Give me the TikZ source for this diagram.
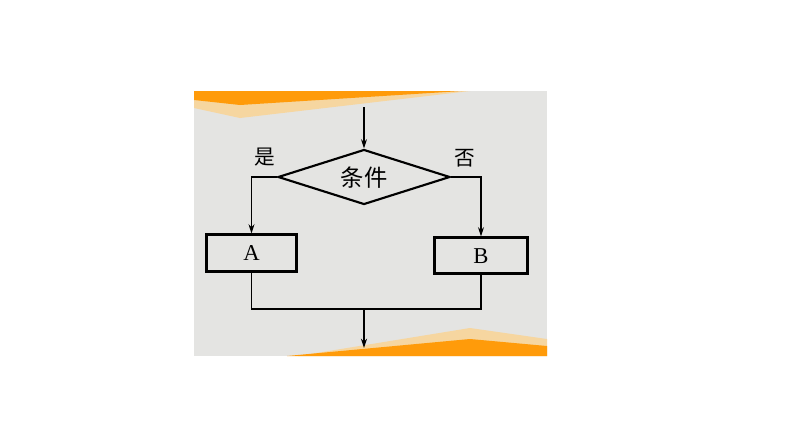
\documentclass[tikz,border=0pt]{standalone}
\usepackage{fontspec}
\setmainfont{Liberation Serif}
\newfontfamily\cjk{Noto Sans CJK SC}
\usetikzlibrary{positioning}
\usetikzlibrary{shapes.geometric}
\usetikzlibrary{arrows.meta}
\definecolor{paper}{RGB}{228,228,226}
\definecolor{darkorange}{RGB}{255,155,10}
\definecolor{lightorange}{RGB}{246,214,160}

\tikzset{
  flow/.style={line width=1.1pt, -{Stealth[length=7pt,width=4.5pt]}},
  line/.style={line width=1.1pt},
  box/.style={draw, line width=1.6pt, rectangle, inner sep=0pt},
  cond/.style={draw, line width=1.6pt, diamond, inner sep=0pt},
}

\begin{document}
\begin{tikzpicture}[x=0.75pt,y=-0.75pt]

\useasboundingbox (0,0) rectangle (794,447);
\fill[white] (0,0) rectangle (794,447);

\fill[paper] (194,91) rectangle (547,356);

% stripes
\fill[lightorange] (194,99) -- (470,91) -- (240,118) -- (194,108) -- cycle;
\fill[darkorange] (194,91) -- (462,91) -- (240,105) -- (194,100) -- cycle;
\fill[lightorange] (298,356) -- (470,328) -- (547,339) -- (547,356) -- cycle;
\fill[darkorange] (287,356) -- (470,339) -- (547,346) -- (547,356) -- cycle;

\node[cond, minimum width=172*0.75pt, minimum height=55*0.75pt] (test) at (364,177) {};
\node at (364,178) [font=\cjk\fontsize{17.5}{20}\selectfont] {条件};

\node[box, minimum width=90*0.75pt, minimum height=37*0.75pt] (A) at (251.5,253) {};
\node at (251.5,253.5) [font=\fontsize{17}{19}\selectfont] {A};
\node[box, minimum width=93*0.75pt, minimum height=36*0.75pt] (B) at (481,255.5) {};
\node at (481,256.5) [font=\fontsize{17}{19}\selectfont] {B};

\node (yes) at (265,157) [font=\cjk\fontsize{15.5}{18}\selectfont] {是};
\node (no) at (465,158) [font=\cjk\fontsize{15.5}{18}\selectfont] {否};

\coordinate (in) at (364,107);
\coordinate (merge) at (364,309);
\coordinate (out) at (364,348);

\draw[flow] (in) -- (test.north);
\draw[flow] (test.west) -| (A.north);
\draw[flow] (test.east) -| (B.north);
\draw[line] (A.south) |- (merge) -| (B.south);
\draw[flow] (merge) -- (out);

\end{tikzpicture}
\end{document}
